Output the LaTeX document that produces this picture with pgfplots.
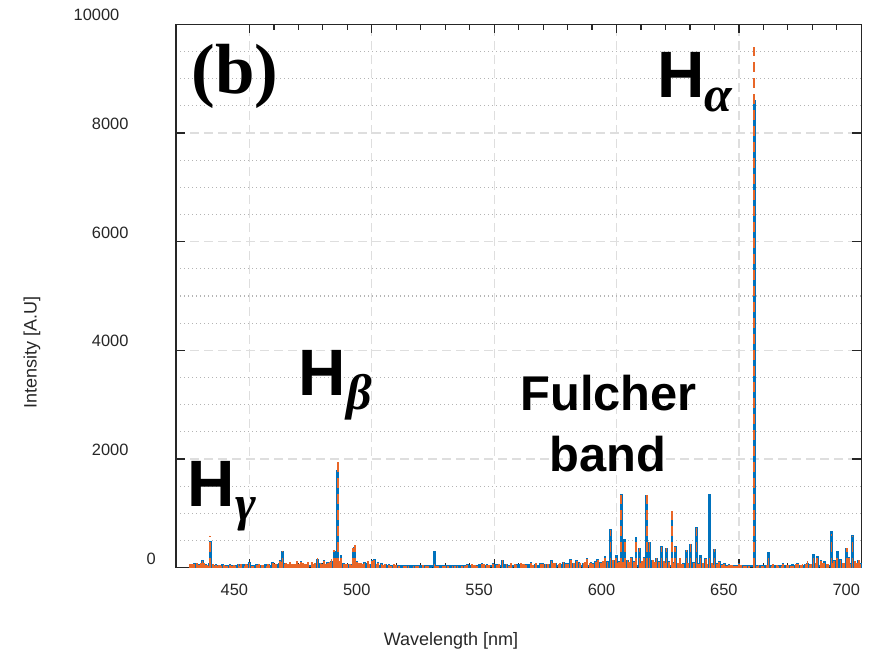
\documentclass[border=0pt]{standalone}
\usepackage{fontspec}
\setmainfont{Liberation Sans}
\newfontfamily\timesfont{Liberation Serif}
\usepackage{pgfplots}
\usepackage{pgfplotstable}
\pgfplotsset{compat=1.18}
\definecolor{mblue}{rgb}{0,0.447,0.741}
\definecolor{morange}{RGB}{232,102,40}
\definecolor{axgray}{RGB}{38,38,38}

\pgfplotstableread{
x y
425.8 60
426.5 70
427.5 80
428.5 50
429.3 60
430.0 40
430.8 150
431.5 90
432.3 60
433.0 50
434.0 500
435.0 50
436.3 60
437.0 30
438.5 50
439.5 40
441.0 50
442.0 60
443.0 40
444.0 40
445.5 70
446.5 50
448.0 50
449.0 60
450.0 110
451.0 40
453.0 60
454.0 50
455.0 40
457.0 50
458.0 70
459.5 100
460.5 50
461.0 60
462.5 150
463.5 310
464.3 80
465.0 90
466.5 60
467.3 70
468.0 50
469.5 110
470.3 60
471.0 130
472.5 70
474.0 90
475.5 80
476.5 60
477.8 160
479.0 90
480.5 150
481.3 60
482.0 110
483.5 130
484.7 310
485.5 180
486.1 1790
487.4 240
488.5 90
490.0 70
491.5 60
492.4 330
493.0 390
494.0 120
495.5 70
497.0 100
498.5 130
500.0 150
501.0 160
502.5 100
504.0 80
505.5 70
507.0 60
509.0 40
511.0 50
513.0 30
515.0 50
517.0 40
519.0 30
521.0 40
523.0 30
525.6 310
527.0 40
529.0 30
531.0 50
533.0 30
535.0 40
537.0 30
539.0 60
541.0 40
543.0 50
545.0 80
547.0 60
549.6 90
551.0 60
553.4 150
555.0 70
557.0 50
559.0 60
561.0 80
563.0 60
565.0 100
567.0 70
569.0 80
571.0 60
573.4 140
575.0 90
576.5 60
578.3 110
580.0 80
581.3 155
582.5 90
583.7 140
585.0 70
586.5 90
588.0 170
589.5 100
590.5 80
592.3 155
593.5 100
595.2 215
596.3 120
597.5 718
598.7 150
599.9 230
601.0 120
601.9 1360
603.3 530
604.5 150
606.0 200
607.0 120
608.0 560
609.4 370
610.5 130
611.2 200
612.3 1345
613.5 480
614.8 150
616.3 180
617.3 120
618.4 400
619.3 130
620.4 370
621.5 120
622.7 1050
624.0 400
625.0 90
626.0 150
627.3 80
628.6 330
630.2 440
631.5 100
632.7 740
634.3 240
635.3 90
636.4 170
638.0 1360
639.0 90
640.0 350
641.0 80
642.0 120
643.0 60
644.0 80
645.0 50
646.0 60
648.0 50
650.0 90
652.0 40
654.0 50
656.3 8600
658.0 40
660.0 50
662.1 280
664.0 60
666.0 50
668.0 80
670.0 40
672.0 60
674.0 80
676.0 50
678.0 90
679.0 60
680.5 260
682.0 220
683.5 150
685.0 120
686.0 70
687.8 680
689.0 150
690.2 300
691.5 160
693.0 90
694.0 370
695.0 200
696.4 610
697.5 130
698.9 150
699.6 80
}\bluedata

\pgfplotstableread{
x y
425.8 70
426.5 60
427.5 60
428.5 90
429.3 50
430.0 50
430.8 130
431.5 80
432.3 50
433.0 40
434.0 590
435.0 60
436.3 50
437.0 40
438.5 30
439.5 50
441.0 40
442.0 50
443.0 30
444.0 30
445.5 60
446.5 60
448.0 40
449.0 50
450.0 90
451.0 30
453.0 50
454.0 60
455.0 50
457.0 40
458.0 50
459.5 80
460.5 60
461.0 70
462.5 120
463.5 300
464.3 70
465.0 80
466.5 100
467.3 60
468.0 40
469.5 120
470.3 70
471.0 100
472.5 60
474.0 110
475.5 100
476.5 70
477.8 220
479.0 80
480.5 130
481.3 70
482.0 90
483.5 160
484.7 330
485.5 200
486.1 2000
487.4 220
488.5 70
490.0 60
491.5 50
492.4 360
493.0 420
494.0 100
495.5 90
497.0 80
498.5 120
500.0 130
501.0 140
502.5 90
504.0 70
505.5 60
507.0 50
509.0 60
511.0 40
513.0 40
515.0 30
517.0 40
519.0 30
521.0 50
523.0 40
525.6 60
527.0 30
529.0 40
531.0 30
533.0 40
535.0 30
537.0 30
539.0 50
541.0 60
543.0 40
545.0 70
547.0 50
549.6 70
551.0 50
553.4 140
555.0 60
557.0 80
559.0 50
561.0 90
563.0 50
565.0 80
567.0 90
569.0 60
571.0 70
573.4 130
575.0 80
576.5 70
578.3 100
580.0 70
581.3 150
582.5 80
583.7 130
585.0 80
586.5 80
588.0 160
589.5 90
590.5 70
592.3 150
593.5 90
595.2 200
596.3 110
597.5 700
598.7 140
599.9 220
601.0 110
601.9 1330
603.3 520
604.5 140
606.0 180
607.0 110
608.0 570
609.4 360
610.5 120
611.2 190
612.3 1330
613.5 470
614.8 140
616.3 200
617.3 110
618.4 390
619.3 120
620.4 360
621.5 110
622.7 1040
624.0 390
625.0 80
626.0 170
627.3 70
628.6 320
630.2 430
631.5 90
632.7 730
634.3 230
635.3 80
636.4 160
638.0 200
639.0 80
640.0 340
641.0 70
642.0 110
643.0 50
644.0 70
645.0 40
646.0 50
648.0 40
650.0 60
652.0 30
654.0 40
656.3 9580
658.0 50
660.0 30
662.1 270
664.0 70
666.0 40
668.0 60
670.0 50
672.0 40
674.0 70
676.0 60
678.0 120
679.0 50
680.5 250
682.0 200
683.5 130
685.0 90
686.0 60
687.8 620
689.0 130
690.2 280
691.5 150
693.0 80
694.0 360
695.0 180
696.4 590
697.5 120
698.9 140
699.6 70
}\orangedata

\pgfplotstableread{
x y
426.2 50
429.0 70
431.9 60
433.5 80
436.8 40
439.0 60
442.5 50
445.0 40
447.5 70
450.5 50
452.5 40
456.5 60
459.0 50
462.0 90
466.0 70
468.7 60
471.7 80
473.8 50
476.0 70
478.5 60
481.7 90
484.0 100
489.0 60
491.0 70
495.0 50
497.8 80
499.6 60
503.0 50
506.3 40
508.5 50
512.0 40
516.0 30
520.0 40
524.0 30
528.0 40
532.0 30
536.0 40
540.0 50
544.0 60
546.0 40
550.3 70
554.2 60
556.0 50
560.0 60
564.0 70
568.0 50
570.0 80
572.2 60
574.2 90
577.3 70
579.2 80
584.5 100
587.2 80
591.3 120
594.4 90
600.4 110
605.3 100
607.5 90
610.0 120
615.5 110
619.8 90
623.3 100
625.5 70
629.5 90
633.5 80
637.2 70
641.5 60
644.5 50
647.5 40
649.5 50
651.5 40
653.5 30
657.0 40
659.0 30
661.0 40
663.3 50
665.0 40
667.0 50
669.0 40
671.0 30
673.0 50
675.0 40
677.0 60
679.7 70
681.3 90
684.7 80
686.4 70
688.4 100
692.8 80
695.5 90
698.0 70
}\noiseB

\pgfplotstableread{
x y
427.0 60
430.4 80
432.7 50
435.8 40
437.8 50
440.5 40
443.7 50
446.0 40
448.6 60
451.5 40
455.5 50
457.5 60
460.0 40
463.0 100
466.0 60
468.4 70
472.0 90
473.0 60
476.8 80
479.8 70
482.8 100
486.7 120
489.6 70
491.0 60
494.7 80
496.5 60
499.0 70
502.0 60
504.7 50
508.0 40
510.0 50
514.0 30
518.0 40
522.0 30
526.0 40
530.0 30
534.0 40
538.0 30
542.0 50
546.0 60
548.0 50
552.0 60
556.0 40
558.5 70
562.0 60
566.0 50
570.0 70
572.0 60
574.0 80
577.0 90
579.5 70
584.0 90
587.0 110
589.0 80
591.5 100
594.5 120
600.5 90
602.5 100
605.0 110
607.5 80
610.0 90
615.5 100
620.0 80
623.0 90
626.7 70
629.0 80
633.5 70
637.0 60
639.5 50
641.5 60
644.5 40
647.0 50
649.0 40
651.0 50
653.0 40
657.5 30
659.5 40
661.5 50
663.5 40
665.5 50
667.5 40
669.5 50
671.5 40
673.5 60
675.5 50
677.5 70
679.5 60
681.5 80
684.5 90
686.5 70
688.5 80
692.5 90
695.5 70
698.0 80
}\noiseO

\newcommand\Hsub[1]{{\fontsize{32.8pt}{36pt}\selectfont\bfseries H}\raisebox{-7.35pt}{\fontsize{25pt}{28pt}\selectfont\timesfont\bfseries\itshape #1}}

\begin{document}
\begin{tikzpicture}
\useasboundingbox (-88pt,-43.65pt) rectangle (353pt,283.85pt);
\begin{axis}[
  at={(0,0)}, anchor=south west,
  scale only axis, width=342.65pt, height=271.7pt,
  xmin=420, xmax=700, ymin=0, ymax=10000,
  xtick={450,500,550,600,650,700},
  ytick={0,2000,4000,6000,8000,10000},
  minor x tick num=4, minor y tick num=3,
  scaled y ticks=false, scaled x ticks=false,
  tick align=inside,
  major tick length=4.5pt, minor tick length=2.6pt,
  xmajorgrids, ymajorgrids, yminorgrids,
  minor y tick style={draw=none},
  major grid style={draw={rgb,255:red,222;green,222;blue,222}, dash pattern=on 4.5pt off 2.5pt, line width=0.6pt},
  minor grid style={draw={rgb,255:red,180;green,180;blue,180}, dash pattern=on 0.7pt off 1.3pt, line width=0.6pt},
  axis line style={draw=axgray, line width=0.75pt},
  every tick/.style={draw=axgray, line width=0.6pt},
  /pgf/number format/1000 sep={},
  /pgf/number format/assume math mode=true,
  tick label style={font=\fontsize{8.2pt}{9pt}\selectfont, text=axgray},
  xticklabel style={anchor=center, inner sep=0pt, xshift=-7.5pt, yshift=-11.15pt},
  yticklabel style={anchor=east, inner sep=0pt, xshift=-5.35pt, yshift=4.5pt},
  yticklabel={\pgfmathprintnumber{\tick}\phantom{\pgfmathprintnumber{\tick}}},
  xlabel={Wavelength [nm]},
  ylabel={Intensity [A.U]},
  label style={font=\fontsize{9pt}{10pt}\selectfont, text=axgray, inner sep=0pt},
  xlabel style={at={(axis description cs:0.5,0)}, anchor=east, yshift=-36.65pt},
  ylabel style={at={(axis description cs:-0.2101,0.5)}, anchor=east},
  clip=false,
]
\addplot[mblue, line width=0.8pt] coordinates {(425.5,30) (700,30)};
\addplot[ycomb, mblue, line width=1.3pt] table[x=x,y=y] {\bluedata};
\addplot[ycomb, mblue, line width=1.2pt] table[x=x,y=y] {\noiseB};
\addplot[ycomb, morange, line width=0.9pt, dash pattern=on 5pt off 3pt] table[x=x,y=y] {\orangedata};
\addplot[ycomb, morange, line width=1.1pt, dash pattern=on 5pt off 3pt] table[x=x,y=y] {\noiseO};

\node[anchor=base west, inner sep=0pt] at (axis cs:426.26,8730) {\fontsize{35.5pt}{40pt}\selectfont\timesfont\bfseries (b)};
\node[anchor=base west, inner sep=0pt] at (axis cs:616.4,8662) {\Hsub{α}};
\node[anchor=base west, inner sep=0pt] at (axis cs:470.0,3178) {\Hsub{β}};
\node[anchor=base west, inner sep=0pt] at (axis cs:424.6,1135) {\Hsub{γ}};
\node[anchor=base, inner sep=0pt] at (axis cs:596.8,2902) {\fontsize{24.4pt}{28pt}\selectfont\bfseries Fulcher};
\node[anchor=base, inner sep=0pt] at (axis cs:596.6,1767) {\fontsize{24.4pt}{28pt}\selectfont\bfseries band};
\end{axis}
\end{tikzpicture}
\end{document}
